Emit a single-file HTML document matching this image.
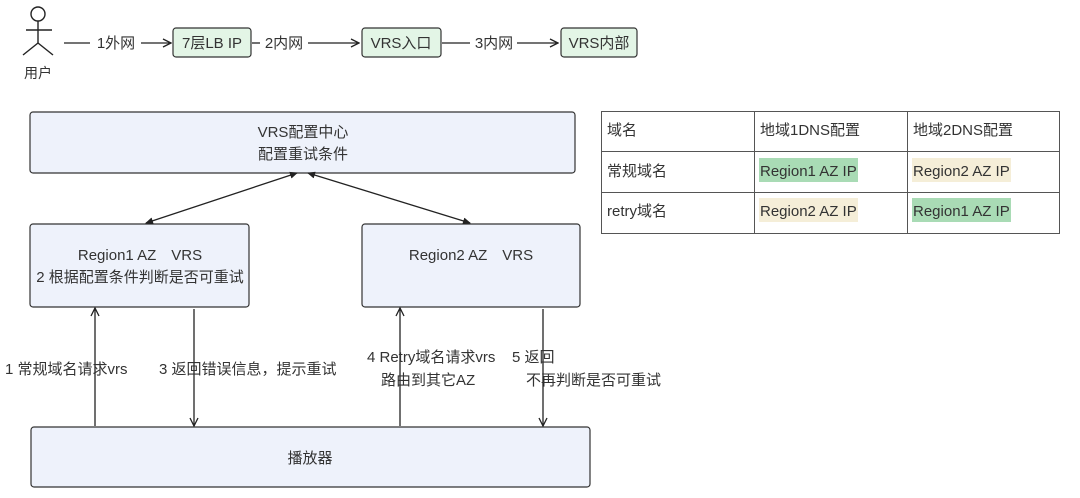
<!DOCTYPE html>
<html><head><meta charset="utf-8"><style>
html,body{margin:0;padding:0;background:#fff;}
svg{display:block;font-family:"Liberation Sans","Noto Sans CJK SC",sans-serif;}
</style></head><body>
<svg width="1080" height="498" viewBox="0 0 1080 498" xmlns="http://www.w3.org/2000/svg">
<defs>
<marker id="a" markerWidth="8" markerHeight="8" refX="7" refY="4" orient="auto-start-reverse" markerUnits="userSpaceOnUse"><path d="M0,0.5 L8,4 L0,7.5 Z" fill="#222"/></marker>
<marker id="o" markerWidth="10" markerHeight="10" refX="9" refY="5" orient="auto" markerUnits="userSpaceOnUse"><path d="M1,1 L9,5 L1,9" fill="none" stroke="#222" stroke-width="1.3"/></marker>
</defs>
<g stroke="#222" stroke-width="1.4" fill="none">
<circle cx="38" cy="14" r="7"/>
<line x1="38" y1="21" x2="38" y2="43"/>
<line x1="26" y1="30" x2="52" y2="30"/>
<line x1="38" y1="43" x2="23" y2="55"/>
<line x1="38" y1="43" x2="53" y2="55"/>
</g>
<text x="38" y="78" font-size="14" text-anchor="middle" fill="#333">用户</text>
<g stroke="#222" stroke-width="1.3" fill="none">
<line x1="64" y1="43" x2="90" y2="43"/>
<line x1="141" y1="43" x2="171" y2="43" marker-end="url(#o)"/>
<line x1="252" y1="43" x2="260" y2="43"/>
<line x1="308" y1="43" x2="359" y2="43" marker-end="url(#o)"/>
<line x1="442" y1="43" x2="470" y2="43"/>
<line x1="517" y1="43" x2="558" y2="43" marker-end="url(#o)"/>
</g>
<g font-size="15" fill="#333" text-anchor="middle">
<text x="116" y="48">1外网</text>
<text x="284" y="48">2内网</text>
<text x="494" y="48">3内网</text>
</g>
<g fill="#e3f5e6" stroke="#333" stroke-width="1.2">
<rect x="173" y="28" width="78" height="29" rx="3"/>
<rect x="362" y="28" width="79" height="29" rx="3"/>
<rect x="561" y="28" width="76" height="29" rx="3"/>
</g>
<g font-size="15" fill="#333" text-anchor="middle">
<text x="212" y="48">7层LB IP</text>
<text x="401" y="48">VRS入口</text>
<text x="599" y="48">VRS内部</text>
</g>
<g fill="#eef2fb" stroke="#333" stroke-width="1.2">
<rect x="30" y="112" width="545" height="61" rx="3"/>
<rect x="30" y="224" width="219" height="83" rx="3"/>
<rect x="362" y="224" width="218" height="83" rx="3"/>
<rect x="31" y="427" width="559" height="60" rx="3"/>
</g>
<g font-size="15" fill="#333" text-anchor="middle">
<text x="303" y="137">VRS配置中心</text>
<text x="303" y="159">配置重试条件</text>
<text x="140" y="260">Region1 AZ　VRS</text>
<text x="140" y="282">2 根据配置条件判断是否可重试</text>
<text x="471" y="260">Region2 AZ　VRS</text>
<text x="310" y="463">播放器</text>
</g>
<g stroke="#222" stroke-width="1.3">
<line x1="297" y1="173" x2="146" y2="223" marker-start="url(#a)" marker-end="url(#a)"/>
<line x1="308" y1="173" x2="470" y2="223" marker-start="url(#a)" marker-end="url(#a)"/>
<line x1="95" y1="426" x2="95" y2="308" marker-end="url(#o)"/>
<line x1="194" y1="309" x2="194" y2="426" marker-end="url(#o)"/>
<line x1="400" y1="426" x2="400" y2="308" marker-end="url(#o)"/>
<line x1="543" y1="309" x2="543" y2="426" marker-end="url(#o)"/>
</g>
<g font-size="15" fill="#333">
<text x="5" y="374">1 常规域名请求vrs</text>
<text x="159" y="374">3 返回错误信息，提示重试</text>
<text x="367" y="362">4 Retry域名请求vrs</text>
<text x="381" y="385">路由到其它AZ</text>
<text x="512" y="362">5 返回</text>
<text x="526" y="385">不再判断是否可重试</text>
</g>
<g stroke="#555" stroke-width="1" fill="none">
<rect x="601.5" y="111.5" width="458" height="122"/>
<line x1="601" y1="151.5" x2="1060" y2="151.5"/>
<line x1="601" y1="192.5" x2="1060" y2="192.5"/>
<line x1="754.5" y1="111" x2="754.5" y2="234"/>
<line x1="907.5" y1="111" x2="907.5" y2="234"/>
</g>
<rect x="759" y="158" width="99" height="24" fill="#a9dbb5"/>
<rect x="912" y="158" width="99" height="24" fill="#f5eed8"/>
<rect x="759" y="198" width="99" height="24" fill="#f5eed8"/>
<rect x="912" y="198" width="99" height="24" fill="#a9dbb5"/>
<g font-size="15" fill="#333">
<text x="607" y="135">域名</text>
<text x="760" y="135">地域1DNS配置</text>
<text x="913" y="135">地域2DNS配置</text>
<text x="607" y="176">常规域名</text>
<text x="760" y="176">Region1 AZ IP</text>
<text x="913" y="176">Region2 AZ IP</text>
<text x="607" y="216">retry域名</text>
<text x="760" y="216">Region2 AZ IP</text>
<text x="913" y="216">Region1 AZ IP</text>
</g>
</svg>
</body></html>
